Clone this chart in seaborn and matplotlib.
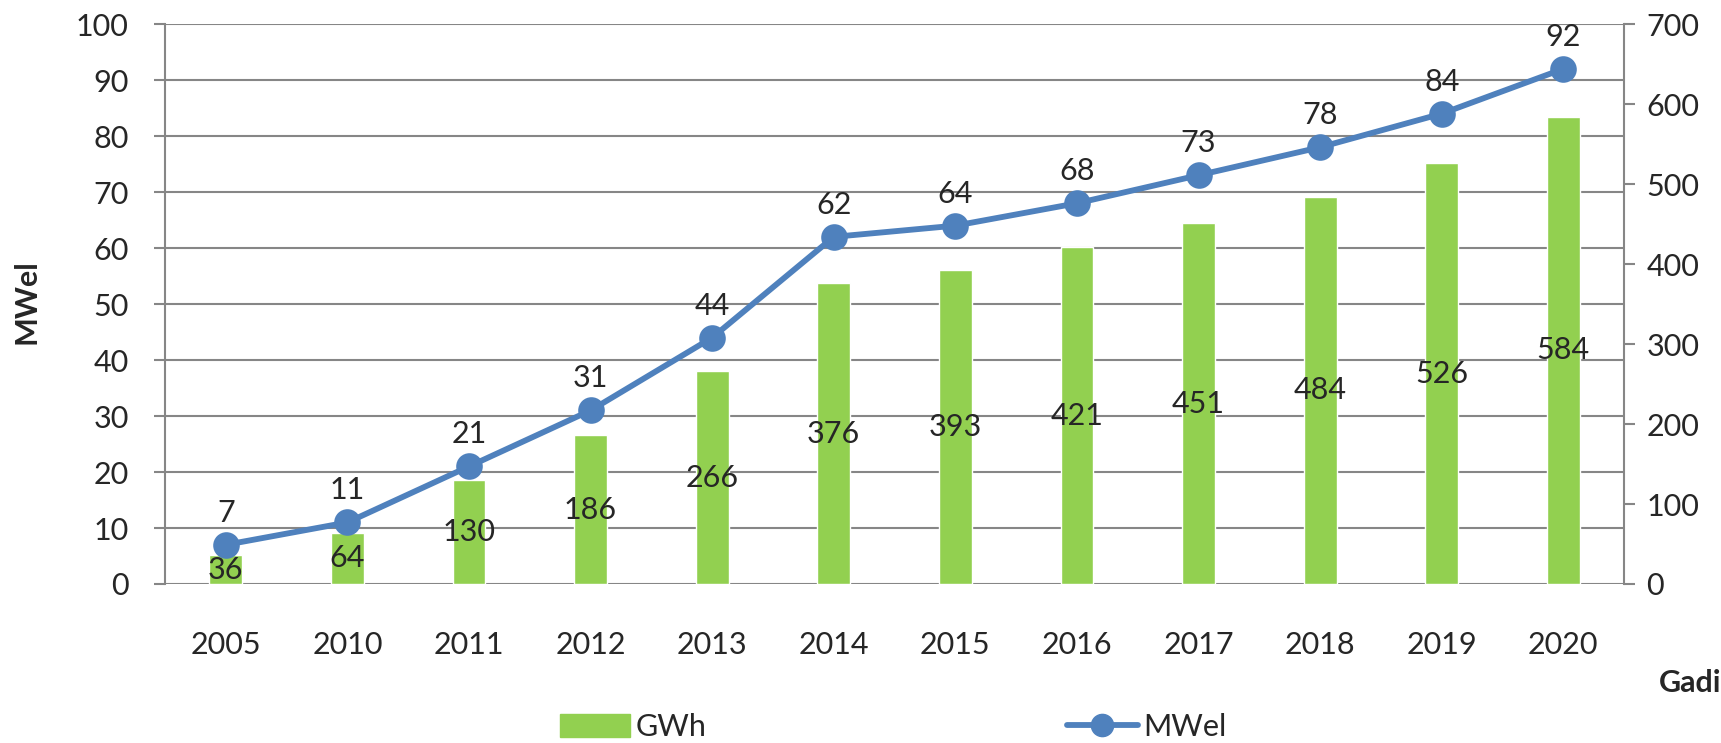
import numpy as np
import matplotlib
matplotlib.use("Agg")
import matplotlib.pyplot as plt
import seaborn as sns
from matplotlib.patches import Patch
from matplotlib.lines import Line2D

# chart data
years = ["2005", "2010", "2011", "2012", "2013", "2014", "2015", "2016", "2017", "2018", "2019", "2020"]
mwel = [7, 11, 21, 31, 44, 62, 64, 68, 73, 78, 84, 92]
gwh = [36, 64, 130, 186, 266, 376, 393, 421, 451, 484, 526, 584]

green = "#92D050"
blue = "#4F81BD"
gray = "#868686"

sns.set_style("white")
plt.rcParams["font.family"] = ["Lato", "DejaVu Sans"]
fs = 22

fig = plt.figure(figsize=(17.21, 7.43), dpi=100)
ax = fig.add_axes([0.0959, 0.214, 0.8478, 0.7536])
ax2 = ax.twinx()
ax3 = ax.twinx()

# bars (right axis, GWh)
sns.barplot(x=years, y=gwh, color=green, saturation=1, width=0.27, ax=ax2)
ax2.bar_label(ax2.containers[0], label_type="center", fontsize=fs)
ax2.set_ylim(0, 700)
ax2.set_yticks(range(0, 701, 100))
ax2.set_ylabel("")

# line (left scale, MWel)
sns.pointplot(x=years, y=mwel, color=blue, errorbar=None, ax=ax3,
              markersize=16, linewidth=4.2)
for i, v in enumerate(mwel):
    ax3.annotate(str(v), (i, v), xytext=(0, 23), textcoords="offset points",
                 ha="center", va="center", fontsize=fs)
ax3.set_ylim(0, 100)
ax3.axis("off")

# host axis: grid + left ticks
ax.set_ylim(0, 100)
ax.set_yticks(range(0, 101, 10))
ax.grid(axis="y", color=gray, lw=1.5)
ax.set_xticks(range(len(years)))
ax.set_xticklabels(years)
for a in (ax, ax2, ax3):
    a.set_xlim(-0.5, len(years) - 0.5)

ax.tick_params(axis="y", length=8, width=1.5, color=gray, pad=18, labelsize=fs)
ax.tick_params(axis="x", length=0, pad=34, labelsize=fs)
ax2.tick_params(axis="y", length=8, width=1.5, color=gray, pad=8, labelsize=fs)

for a in (ax, ax2):
    for s in a.spines.values():
        s.set_visible(False)
ax.spines["left"].set_visible(True)
ax.spines["left"].set_color(gray)
ax.spines["left"].set_linewidth(1.5)
ax2.spines["right"].set_visible(True)
ax2.spines["right"].set_color(gray)
ax2.spines["right"].set_linewidth(1.5)

fig.text(27 / 1721, 1 - 302 / 743, "MWel", rotation=90, ha="center", va="center",
         fontsize=fs, fontweight="bold")
fig.text(1690 / 1721, 1 - 683 / 743, "Gadi", ha="center", va="center",
         fontsize=fs, fontweight="bold")

handles = [Patch(color=green, label="GWh"),
           Line2D([], [], color=blue, lw=4.2, marker="o", markersize=16, label="MWel")]
fig.legend(handles=handles, loc="center left", bbox_to_anchor=(532 / 1721, 1 - 727 / 743),
           ncol=2, frameon=False, fontsize=fs, handlelength=2.3, handleheight=0.8,
           handletextpad=0.2, columnspacing=11.8)

fig.savefig("out.png", dpi=100)
